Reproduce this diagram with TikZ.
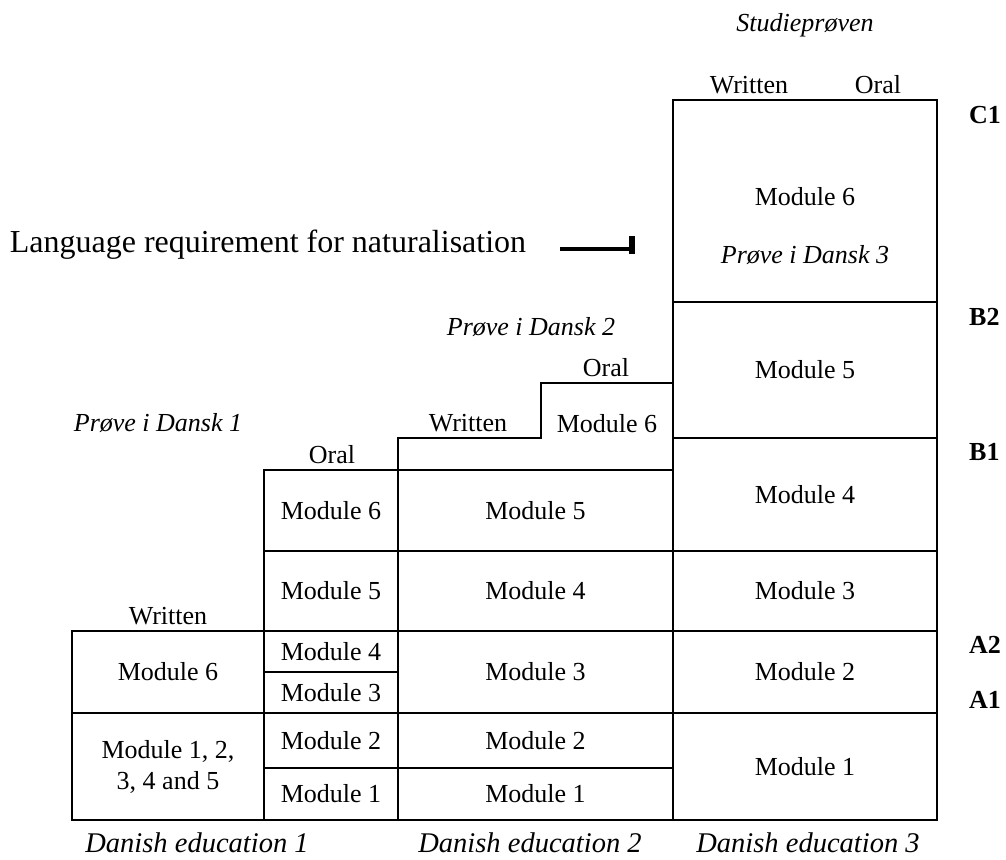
\documentclass[tikz,border=0pt]{standalone}
\usepackage{fontspec}
\setmainfont{Liberation Serif}
\begin{document}
\begin{tikzpicture}[x=1pt,y=-1pt,
  cell/.style={draw,line width=2.2pt,inner sep=0pt,outer sep=0pt,align=center,
    font=\fontsize{26}{31}\selectfont},
  txt/.style={inner sep=0pt,font=\fontsize{26}{31}\selectfont},
  itxt/.style={inner sep=0pt,font=\fontsize{26}{31}\selectfont\itshape},
  btxt/.style={inner sep=0pt,anchor=west,font=\fontsize{26}{31}\selectfont\bfseries},
  ltxt/.style={inner sep=0pt,font=\fontsize{28.5}{33}\selectfont\itshape},
  stepline/.style={line width=2.2pt}]
\useasboundingbox (0,0) rectangle (1006,859);
% column 1
\node[cell,minimum width=192pt,minimum height=82pt] (c1m6) at (168,672) {Module 6};
\node[cell,minimum width=192pt,minimum height=107pt] (c1m15) at (168,766.5) {Module 1, 2,\\3, 4 and 5};
% column 2
\node[cell,minimum width=134pt,minimum height=81pt] (c2m6) at (331,510.5) {Module 6};
\node[cell,minimum width=134pt,minimum height=80pt] (c2m5) at (331,591) {Module 5};
\node[cell,minimum width=134pt,minimum height=41pt] (c2m4) at (331,651.5) {Module 4};
\node[cell,minimum width=134pt,minimum height=41pt] (c2m3) at (331,692.5) {Module 3};
\node[cell,minimum width=134pt,minimum height=55pt] (c2m2) at (331,740.5) {Module 2};
\node[cell,minimum width=134pt,minimum height=52pt] (c2m1) at (331,794) {Module 1};
% column 3
\node[cell,minimum width=275pt,minimum height=81pt] (c3m5) at (535.5,510.5) {Module 5};
\node[cell,minimum width=275pt,minimum height=80pt] (c3m4) at (535.5,591) {Module 4};
\node[cell,minimum width=275pt,minimum height=82pt] (c3m3) at (535.5,672) {Module 3};
\node[cell,minimum width=275pt,minimum height=55pt] (c3m2) at (535.5,740.5) {Module 2};
\node[cell,minimum width=275pt,minimum height=52pt] (c3m1) at (535.5,794) {Module 1};
\coordinate (s1) at (398,470);
\coordinate (s2) at (398,438);
\coordinate (s3) at (541,438);
\coordinate (s4) at (541,383);
\coordinate (s5) at (673,383);
\draw[stepline] (s1) -- (s2) -- (s3) -- (s4) -- (s5);
\node[txt] (c3m6) at (607,424) {Module 6};
% column 4
\node[cell,minimum width=264pt,minimum height=202pt] (c4m6) at (805,201) {};
\node[txt] (c4m6t) at (805,197) {Module 6};
\node[itxt] (pd3) at (805,255) {Prøve i Dansk 3};
\node[cell,minimum width=264pt,minimum height=136pt] (c4m5) at (805,370) {Module 5};
\node[cell,minimum width=264pt,minimum height=113pt] (c4m4) at (805,494.5) {Module 4};
\node[cell,minimum width=264pt,minimum height=80pt] (c4m3) at (805,591) {Module 3};
\node[cell,minimum width=264pt,minimum height=82pt] (c4m2) at (805,672) {Module 2};
\node[cell,minimum width=264pt,minimum height=107pt] (c4m1) at (805,766.5) {Module 1};
% headings
\node[itxt] (stud) at (805,25) {Studieprøven};
\node[txt] (w4) at (749,85) {Written};
\node[txt] (o4) at (878,85) {Oral};
\node[itxt] (pd2) at (531,327) {Prøve i Dansk 2};
\node[txt] (w3) at (468,423) {Written};
\node[txt] (o3) at (606,368) {Oral};
\node[itxt] (pd1) at (158,423) {Prøve i Dansk 1};
\node[txt] (o2) at (332,455) {Oral};
\node[txt] (w1) at (168,616) {Written};
% levels
\node[btxt] (C1) at (969,115) {C1};
\node[btxt] (B2) at (969,317) {B2};
\node[btxt] (B1) at (969,452) {B1};
\node[btxt] (A2) at (969,645) {A2};
\node[btxt] (A1) at (969,700) {A1};
% bottom
\node[ltxt] (de1) at (197,843) {Danish education 1};
\node[ltxt] (de2) at (530,843) {Danish education 2};
\node[ltxt] (de3) at (808,843) {Danish education 3};
% language requirement
\node[inner sep=0pt,font=\fontsize{32}{38}\selectfont] (lang) at (268,245) {Language requirement for naturalisation};
\coordinate (arS) at (560,249);
\coordinate (arE) at (632,249);
\draw[line width=4.5pt] (arS) -- (arE);
\fill (629,236) rectangle (635,254);
\end{tikzpicture}
\end{document}
